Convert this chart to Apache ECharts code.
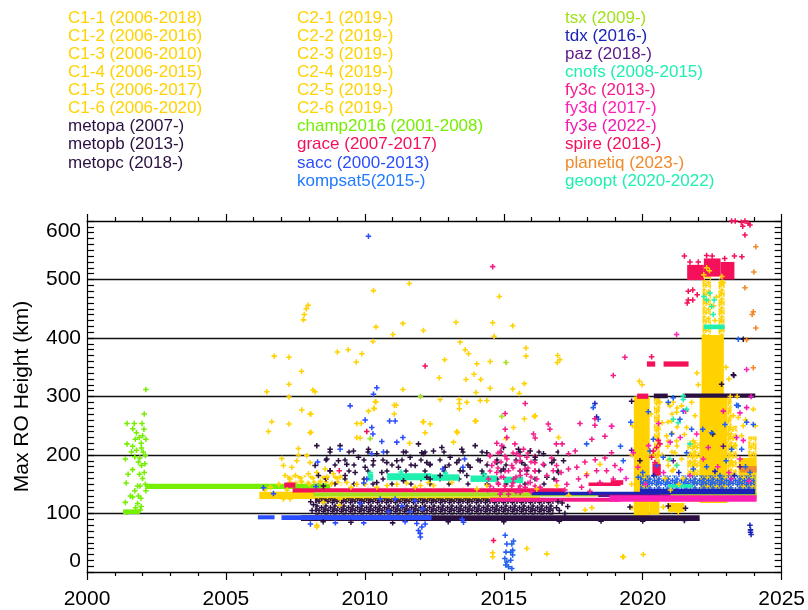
<!DOCTYPE html>
<html><head><meta charset="utf-8">
<script src="https://cdn.jsdelivr.net/npm/echarts@6/dist/echarts.min.js"></script>
<style>html,body{margin:0;padding:0;background:#fff}#chart{width:808px;height:610px}</style>
</head><body><div id="chart"></div>
<script>
// ---------- tick labels ----------
const yearTicks = [2000, 2005, 2010, 2015, 2020, 2025];
const kmTicks = [0, 100, 200, 300, 400, 500, 600];

// ---------- legend names (three columns) ----------
const col1Names = ['C1-1 (2006-2018)','C1-2 (2006-2016)','C1-3 (2006-2010)','C1-4 (2006-2015)','C1-5 (2006-2017)','C1-6 (2006-2020)','metopa (2007-)','metopb (2013-)','metopc (2018-)'];
const col2Names = ['C2-1 (2019-)','C2-2 (2019-)','C2-3 (2019-)','C2-4 (2019-)','C2-5 (2019-)','C2-6 (2019-)','champ2016 (2001-2008)','grace (2007-2017)','sacc (2000-2013)','kompsat5(2015-)'];
const col3Names = ['tsx (2009-)','tdx (2016-)','paz (2018-)','cnofs (2008-2015)','fy3c (2013-)','fy3d (2017-)','fy3e (2022-)','spire (2018-)','planetiq (2023-)','geoopt (2020-2022)'];

// ---------- data ----------
// points: [year, km]; bands / clouds: [yearStart, yearEnd, kmLow, kmHigh]
const c1Dense = [[2006.2,2008.2,125,137],[2008.2,2016.3,122,129]];
const c1Cloud = [[2007.2,2009.2,148,165]];
const c1Pts = [[2006.47,308],[2006.53,240],[2006.65,257],[2006.74,369],[2007.01,194],[2007.27,367],[2007.27,321],[2007.27,299],[2007.27,253],[2007.72,343],[2007.73,277],[2007.79,431],[2007.82,440],[2007.89,450],[2007.96,456],[2008.06,270],[2008.06,239],[2008.13,311],[2008.21,308],[2009.01,376],[2009.4,380],[2009.69,359],[2009.89,373],[2009.87,254],[2009.83,229],[2010.31,481],[2010.4,419],[2010.29,394],[2010.4,291],[2010.34,279],[2010.13,275],[2011.01,406],[2011.13,285],[2011.06,270],[2009.09,114],[2008.27,77],
[2011.6,493],[2011.37,425],[2012.11,413],[2013.28,427],[2013.43,393],[2013.61,380],[2013.73,373],[2012.87,363],[2014.03,356],[2014.51,360],[2014.65,403],[2014.6,426],[2014.84,471],[2015.32,421],[2012.68,332],[2013.64,329],[2013.93,338],[2014.17,329],[2014.0,307],[2011.37,312],[2012.71,295],[2013.4,295],[2013.4,279],[2013.67,290],[2014.39,293],[2014.51,314],[2014.0,258],[2012.09,257],[2012.35,253],[2013.31,240],[2015.32,313],[2015.56,305],[2015.74,322],[2015.8,383],[2015.8,369],[2016.1,266],[2015.74,262],[2016.94,370],[2017.02,363],[2016.93,358],[2015.35,247],[2015.08,228],[2015.83,40],[2016.55,31],[2014.6,26],[2014.6,33],[2019.28,26],
[2008.03,270],[2008.03,238],[2010.37,291],[2010.33,280],[2011.06,285],[2009.71,254],[2009.71,230],[2012.11,257],[2012.17,238],[2011.61,220],[2007.61,211],[2007.61,200],[2007.55,190],[2007.07,182],[2007.37,179],[2007.13,165],[2007.31,159],[2007.91,199],[2008.03,187],[2007.97,168],[2008.27,170],[2008.57,176],[2008.63,162],[2008.87,168],[2009.11,162],[2009.35,153],[2009.71,150],[2010.43,145],[2011.15,150],[2011.81,145],[2012.29,153],[2007.07,125],[2007.31,125],[2008.51,119],[2009.11,125],[2008.27,80],
[2013.19,222],[2013.33,238],[2013.97,258],[2013.4,288],[2014.15,293],[2016.13,267],[2016.97,230],[2017.99,168],[2018.46,184],[2018.17,110],[2017.93,106],[2012.47,148],[2013.13,153],[2014.03,142],[2014.39,148],[2016.19,142],[2016.91,148],[2017.33,131],
[2006.4,140],[2006.6,145],[2006.9,150],[2007.2,140],[2007.5,165],[2007.7,155],[2008.0,150],[2008.4,155],[2008.8,150],[2009.5,145],[2010.0,150],[2010.8,148],[2011.5,152],[2012.0,148]];

const c2Dense = [[2019.68,2020.25,96,300],[2020.25,2020.6,98,122],[2020.9,2021.5,103,118],[2022.05,2023.05,118,300],[2022.12,2022.92,300,405],[2023.45,2024.1,125,195]];
const c2Cloud = [[2020.4,2020.62,122,298],[2021.6,2022.05,120,225],[2022.15,2022.45,405,508],[2022.72,2022.95,405,500],[2023.05,2023.4,130,250],[2023.8,2024.1,195,232],[2023.05,2023.2,250,300]];
const c2Haze = [[2020.62,2021.5,150,290]];
const c2Pts = [[2019.88,326],[2019.31,26],[2020.02,30],[2020.98,284],[2021.22,273],[2021.4,284],[2021.76,290],[2021.88,267],[2021.04,258],[2021.58,247],[2020.86,233],[2021.22,224],[2021.82,224],[2021.16,204],[2021.4,193],[2020.92,182],[2021.7,188],[2023.08,236],[2023.26,267],[2023.44,264],[2023.62,250],[2023.56,233],[2023.98,278],[2020.62,290],[2020.56,244],[2021.28,102],[2021.04,105],[2021.46,108],[2020.74,111],[2022.96,222],[2023.2,188],[2023.32,216],[2021.1,290],[2019.98,320],
[2022.3,520],[2022.4,515],[2022.2,508],[2022.85,505],[2022.9,495],[2022.6,430],[2022.55,455],[2022.65,470],[2022.62,360],[2022.0,320],[2021.95,340],[2023.1,330],[2023.15,300],[2023.0,350],[2020.8,160],[2020.7,200],[2021.3,150],[2021.0,140],[2023.4,300],[2023.7,260],[2024.05,250],[2019.6,150],[2019.62,200],[2019.63,250],[2019.61,110],[2020.3,270],[2020.35,200],[2020.7,255],[2020.9,215],[2021.1,175],[2021.45,160],[2021.5,235],[2021.55,275]];

const metopDense = [[2007.7,2022.05,87,97],[2020.4,2020.9,297,305],[2021.5,2024.05,298,305]];
const metopCloud = [[2008.2,2016.8,98,126]];
const metopHaze = [[2008.3,2017.0,145,210]];
const metopPts = [[2008.27,216],[2008.75,210],[2009.11,216],[2009.59,207],[2010.13,210],[2010.43,202],[2011.39,205],[2011.93,219],[2012.11,202],[2008.21,182],[2008.63,193],[2009.05,190],[2009.35,184],[2008.75,173],[2009.29,165],[2009.77,196],[2010.01,179],[2010.31,190],[2010.79,187],[2011.15,190],[2011.63,196],[2012.23,187],[2008.33,165],[2009.65,170],[2010.61,170],[2011.21,179],[2011.81,182],[2008.51,147],[2010.43,153],[2011.39,156],[2012.35,159],
[2012.05,204],[2012.47,207],[2012.77,213],[2013.07,196],[2013.49,210],[2013.97,216],[2014.39,204],[2014.99,213],[2015.53,210],[2015.95,207],[2016.43,202],[2012.35,184],[2012.89,179],[2013.31,187],[2013.79,179],[2014.15,190],[2014.75,187],[2015.65,187],[2016.13,196],[2016.73,187],[2017.15,190],[2012.23,162],[2012.71,165],[2013.67,165],[2014.27,168],[2014.99,176],[2015.83,173],[2016.55,162],[2016.97,170],[2013.43,173],
[2019.6,292],[2022.84,321],[2022.52,236],[2019.54,111],[2023.26,337],[2023.62,398],[2023.28,336],[2019.9,190],[2020.92,113],[2021.54,109],
[2008.5,86],[2009.5,85],[2011.0,84],[2013.0,86],[2015.0,86],[2017.0,87],[2018.5,87],[2020.0,87],[2021.5,88],
[2016.9,110],[2017.0,105],[2017.1,118],[2017.2,100],[2017.3,112],[2016.95,120],[2008.1,105],[2008.15,115],[2008.05,120]];

const champDense = [[2002.1,2008.75,142,151],[2001.3,2001.9,99,107]];
const champPts = [[2001.44,254],[2001.44,219],[2001.38,193],[2001.41,152],[2001.38,119],[2001.44,102],[2001.7,254],[2001.65,245],[2001.74,227],[2001.64,215],[2001.78,208],[2001.72,197],[2001.85,188],[2001.64,175],[2001.89,167],[2001.72,139],[2001.64,128],[2001.82,117],[2001.94,126],[2001.98,254],[2002.06,270],[2002.12,312],[2002.0,233],[2002.12,227],[2001.96,212],[2002.1,199],[2001.96,182],[2002.06,170],[2001.91,147],[2002.12,139],[2001.92,106],[2001.56,130],[2001.48,167],[2001.6,205],[2001.82,147],[2001.78,238],[2002.05,244],
[2001.95,220],[2002.02,205],[2001.9,195],[2002.0,160],[2001.85,130],[2001.95,112],[2002.08,185],[2001.88,230],[2002.1,150],[2001.75,110]];

const graceDense = [[2007.4,2017.2,136,143],[2007.1,2007.5,144,153]];
const gracePts = [[2010.07,240],[2009.08,173],[2012.17,352],[2014.63,54]];

const saccDense = [[2006.15,2006.75,90,97],[2007.0,2012.4,89,97]];
const saccPts = [[2009.47,284],[2010.01,260],[2010.25,247],[2010.29,236],[2010.89,258],[2011.09,258],[2011.37,230],[2011.15,222],[2010.61,223],[2010.67,205],[2010.25,202],[2008.3,188],[2009.11,210],[2010.07,159],[2009.96,152],[2008.24,146],[2006.71,134],[2006.35,144],[2009.83,117],[2010.55,125],[2011.09,125],[2011.33,113],[2011.81,122],[2011.63,103],[2010.85,103],[2012.07,108],[2008.04,82],[2008.94,84],[2009.96,84],[2011.45,86],[2011.87,83],[2011.99,66],[2012.05,77],[2011.93,71],[2012.17,82],[2012.0,60],[2010.13,574],[2010.31,304],[2010.43,315],[2012.8,176],[2013.53,179],[2013.59,193],[2013.5,90],[2013.55,85]];

const kompsatCloud = [[2019.9,2024.05,140,165]];
const kompsatPts = [[2015.05,63],[2015.11,48],[2015.29,48],[2015.08,34],[2015.25,34],[2015.32,29],[2015.04,23],[2015.25,20],[2015.17,9],[2015.07,12],[2015.32,37],[2015.11,17],[2015.29,6],[2015.35,53],
[2019.57,256],[2020.2,274],[2020.92,290],[2021.1,298],[2021.34,261],[2021.46,275],[2021.76,244],[2022.16,244],[2022.48,238],[2022.96,252],[2023.44,284],[2023.74,256],[2023.98,252],[2020.38,227],[2021.04,236],[2023.2,210],[2023.56,210],[2020.26,207],[2020.74,196],[2021.58,204],[2019.84,162],[2020.5,182],[2021.82,176],[2022.78,165],[2023.86,170],[2019.2,215],[2023.44,398],[2023.38,285],[2018.4,261],[2018.22,281],[2017.98,219],[2019.3,190],[2020.0,170],[2022.3,180],[2023.0,190],[2023.7,180]];

const tsxDense = [[2008.15,2024.1,129,136]];
const tsxPts = [[2010.19,228],[2012.0,300],[2014.93,266],[2015.08,358]];

const tdxDense = [[2016.0,2020.6,131,137],[2019.9,2024.05,133,142]];
const tdxPts = [[2023.86,80],[2023.88,68],[2023.9,64],[2023.88,72],[2018.28,288],[2018.34,265],[2020.4,165],[2021.3,170],[2022.6,172],[2023.3,165]];

const pazDense = [[2018.4,2021.0,128,133]];
const pazPts = [[2019.6,208],[2021.1,190],[2022.9,215],[2023.5,180]];

const cnofsDense = [[2010.1,2010.3,156,168],[2010.8,2012.4,157,169],[2012.4,2013.4,156,167],[2013.8,2014.75,154,165],[2015.0,2015.7,152,163]];
const cnofsPts = [[2010.2,170],[2011.3,171],[2012.9,169],[2014.3,167]];

const fy3cDense = [[2014.5,2019.2,120,127]];
const fy3cCloud = [[2014.4,2016.2,132,212]];
const fy3cPts = [[2015.77,288],[2015.05,271],[2016.6,253],[2016.66,244],[2017.74,254],[2018.28,262],[2018.28,251],[2018.88,249],[2016.07,236],[2016.13,229],[2015.11,230],[2015.05,244],[2014.75,220],[2015.4,219],[2016.89,219],[2017.1,219],[2017.33,202],[2017.57,207],[2018.17,227],[2018.64,232],[2018.88,204],[2018.29,192],[2018.64,195],[2017.92,188],[2017.63,179],[2017.33,176],[2016.9,182],[2017.06,170],[2016.78,173],[2017.98,165],[2018.34,173],[2018.7,173],[2019.0,182],[2018.46,153],[2018.94,159],[2017.69,159],[2017.27,150],[2016.9,156],[2016.72,195],[2016.42,184],[2016.12,187],[2015.82,167],[2016.12,173],
[2014.51,199],[2014.69,188],[2014.87,205],[2014.93,216],[2015.11,193],[2015.29,182],[2015.47,202],[2015.59,190],[2015.71,210],[2015.83,196],[2014.75,170],[2014.99,162],[2015.17,173],[2015.35,159],[2015.59,165],[2015.77,176],[2014.81,150],[2015.05,142],[2015.29,147],[2015.53,142],[2015.77,145],[2015.95,153],[2014.63,142],[2014.87,133],[2015.17,133],[2015.59,136],[2014.45,159],[2014.57,182],[2016.19,159],[2016.31,145],[2016.55,165],[2014.6,522],[2018.94,336],[2019.36,367],[2017.2,140],[2017.8,145],[2018.1,138]];

const fy3dDense = [[2018.8,2024.1,120,131]];
const fy3dPts = [[2018.88,249],[2019.66,204],[2019.83,179],[2021.94,236],[2021.54,275],[2021.35,230],[2020.99,222],[2020.57,254],[2020.21,216],[2020.75,170],[2022.18,193],[2023.62,225],[2023.83,155],[2023.5,193],[2021.22,406],[2023.74,346],[2023.5,272],[2019.4,160],[2019.2,175],[2020.1,150],[2021.7,165],[2022.7,180],[2023.1,170]];

const fy3ePts = [[2023.74,281],[2023.38,230],[2022.9,275],[2022.36,213],[2023.9,300],[2023.2,160]];

const spireDense = [[2018.05,2019.2,147,153],[2018.85,2019.3,149,157],[2019.8,2020.2,296,305],[2020.15,2020.45,351,360],[2020.75,2021.65,351,360],[2021.6,2022.2,499,525],[2022.2,2022.8,505,536],[2022.8,2023.3,500,530],[2020.35,2020.65,165,185]];
const spirePts = [[2023.3,540],[2023.57,539],[2023.68,576],[2023.2,600],[2023.33,600],[2023.55,598],[2023.68,600],[2023.8,596],[2023.86,593],[2023.6,591],[2021.64,480],[2021.8,482],[2021.96,474],[2021.64,465],[2021.6,460],[2021.8,465],[2020.38,207],[2020.5,213],[2020.32,196],[2020.62,219],[2020.56,225],[2020.44,187],[2020.32,368],[2021.5,540],[2022.0,530],[2023.1,525],[2022.5,540],[2021.7,530],[2022.3,541],[2022.95,536]];

const planetiqDense = [[2023.5,2024.1,170,181]];
const planetiqPts = [[2024.07,556],[2024.0,513],[2023.68,486],[2023.98,445],[2023.94,440],[2024.07,417],[2023.74,397],[2023.98,349]];

const geooptDense = [[2022.2,2022.95,415,423],[2020.9,2021.8,144,150]];
const geooptPts = [[2022.3,465],[2022.42,477],[2022.57,465],[2022.48,454],[2022.54,440],[2022.2,471],[2021.46,295],[2021.58,278],[2021.7,219],[2021.1,261],[2021.28,255],[2020.98,193],[2021.22,182],[2021.46,301]];

// ---------- styling ----------
const YEL = '#ffd200';
const colors = {
  c1: YEL, c2: YEL, metop: '#2a1040', champ: '#76ee00', grace: '#f5105a', sacc: '#2a4dff',
  kompsat: '#2060f0', tsx: '#a2e01a', tdx: '#1a22b8', paz: '#5a1a88', cnofs: '#1ef0b0',
  fy3c: '#f21d8a', fy3d: '#ff1fb4', fy3e: '#f01aae', spire: '#f5105a', planetiq: '#f08a2a', geoopt: '#1ef0b0'
};
const legendColor = {};
col1Names.forEach((n, i) => legendColor[n] = i < 6 ? colors.c1 : colors.metop);
col2Names.forEach((n, i) => legendColor[n] = i < 6 ? colors.c2 : [colors.champ, colors.grace, colors.sacc, '#1f7bff'][i - 6]);
const col3Keys = ['tsx','tdx','paz','cnofs','fy3c','fy3d','fy3e','spire','planetiq','geoopt'];
col3Names.forEach((n, i) => legendColor[n] = colors[col3Keys[i]]);

// texture tiles of '+' marks used to shade speckled clouds (pure style)
const TILE_SPOTS = {
  dense: { size: 9, spots: [[2,2],[6.5,3.5],[4,6.5],[8.5,7.5],[1,5]] },
  medium: { size: 12, spots: [[2,2],[8,3],[5,7],[11,9],[1,10]] },
  sparse: { size: 15, spots: [[3,3],[10,6],[6,12]] },
  thin: { size: 19, spots: [[3,4],[12,9],[7,15]] }
};
function crossPattern(color, kind) {
  const t = TILE_SPOTS[kind];
  const c = document.createElement('canvas'); c.width = c.height = t.size;
  const g = c.getContext('2d'); g.strokeStyle = color; g.lineWidth = 1.5;
  t.spots.forEach(([x, y]) => {
    for (const dx of [-t.size, 0, t.size]) for (const dy of [-t.size, 0, t.size]) {
      g.beginPath();
      g.moveTo(x + dx - 2.5, y + dy); g.lineTo(x + dx + 2.5, y + dy);
      g.moveTo(x + dx, y + dy - 2.5); g.lineTo(x + dx, y + dy + 2.5);
      g.stroke();
    }
  });
  return { image: c, repeat: 'repeat' };
}

// missions: [legendName, colorKey, points, solidBands, [[clouds, texture], ...]]
const missions = [
  [col1Names[0], 'c1', c1Pts, c1Dense, [[c1Cloud, 'medium']]],
  [col2Names[0], 'c2', c2Pts, c2Dense, [[c2Cloud, 'dense'], [c2Haze, 'thin']]],
  [col1Names[6], 'metop', metopPts, metopDense, [[metopCloud, 'dense'], [metopHaze, 'thin']]],
  [col2Names[6], 'champ', champPts, champDense, []],
  [col2Names[7], 'grace', gracePts, graceDense, []],
  [col2Names[8], 'sacc', saccPts, saccDense, []],
  [col2Names[9], 'kompsat', kompsatPts, [], [[kompsatCloud, 'dense']]],
  [col3Names[0], 'tsx', tsxPts, tsxDense, []],
  [col3Names[1], 'tdx', tdxPts, tdxDense, []],
  [col3Names[2], 'paz', pazPts, pazDense, []],
  [col3Names[3], 'cnofs', cnofsPts, cnofsDense, []],
  [col3Names[4], 'fy3c', fy3cPts, fy3cDense, [[fy3cCloud, 'sparse']]],
  [col3Names[5], 'fy3d', fy3dPts, fy3dDense, []],
  [col3Names[6], 'fy3e', fy3ePts, [], []],
  [col3Names[7], 'spire', spirePts, spireDense, []],
  [col3Names[8], 'planetiq', planetiqPts, planetiqDense, []],
  [col3Names[9], 'geoopt', geooptPts, geooptDense, []]
];

const PLUS = 'path://M1.8,0H3.2V1.8H5V3.2H3.2V5H1.8V3.2H0V1.8H1.8Z';
function rectRenderer(fill) {
  return function (params, api) {
    const a = api.coord([api.value(0), api.value(3)]);
    const b = api.coord([api.value(1), api.value(2)]);
    return { type: 'rect', shape: { x: a[0], y: a[1], width: b[0] - a[0], height: b[1] - a[1] }, style: { fill } };
  };
}

const series = [];
missions.forEach(([name, key, pts, dense, clouds]) => {
  const color = colors[key];
  clouds.forEach(([cloud, tex]) => series.push({ type: 'custom', name, renderItem: rectRenderer(crossPattern(color, tex)),
    encode: { x: [0, 1], y: [2, 3] }, data: cloud, silent: true, clip: true, itemStyle: { color } }));
  if (dense.length) series.push({ type: 'custom', name, renderItem: rectRenderer(color),
    encode: { x: [0, 1], y: [2, 3] }, data: dense, silent: true, clip: true, itemStyle: { color } });
  series.push({ type: 'scatter', name, data: pts, symbol: PLUS, symbolSize: 5.5,
    itemStyle: { color, opacity: 1 }, silent: true, clip: true });
});
// empty series so every legend entry exists
[...col1Names, ...col2Names, ...col3Names].forEach(n => {
  if (!series.some(s => s.name === n)) series.push({ type: 'scatter', name: n, data: [], itemStyle: { color: legendColor[n] } });
});

const FONT = 'Liberation Sans, Arial, Helvetica, sans-serif';
function legendCol(names, left) {
  return { orient: 'vertical', left, top: 9, padding: 0, itemGap: 0, itemWidth: 0, itemHeight: 0,
    icon: 'rect', selectedMode: false, itemStyle: { opacity: 0 },
    textStyle: { fontSize: 17, fontFamily: FONT, lineHeight: 18.1 },
    data: names.map(n => ({ name: n, textStyle: { color: legendColor[n] } })) };
}

const axisLineStyle = { color: '#000', width: 1.2 };
const xBase = {
  type: 'value', min: yearTicks[0], max: yearTicks[yearTicks.length - 1], interval: yearTicks[1] - yearTicks[0],
  axisLine: { show: true, onZero: false, lineStyle: axisLineStyle },
  axisTick: { show: true, inside: false, length: 8, lineStyle: axisLineStyle },
  minorTick: { show: true, splitNumber: 5, length: 4, lineStyle: axisLineStyle },
  splitLine: { show: false }
};
const yBase = {
  type: 'value', min: kmTicks[0], max: kmTicks[kmTicks.length - 1], interval: kmTicks[1] - kmTicks[0],
  axisLine: { show: true, onZero: false, lineStyle: axisLineStyle },
  axisTick: { show: true, inside: true, length: 7, lineStyle: axisLineStyle },
  minorTick: { show: true, splitNumber: 10, length: 7, lineStyle: axisLineStyle },
  splitLine: { show: true, lineStyle: { color: '#111', width: 1.3 } }
};

const option = {
  animation: false,
  backgroundColor: '#fff',
  grid: { left: 87, right: 26, top: 221, bottom: 37, containLabel: false },
  legend: [legendCol(col1Names, 63), legendCol(col2Names, 292), legendCol(col3Names, 560)],
  xAxis: [
    Object.assign({}, xBase, { position: 'bottom',
      axisLabel: { show: true, fontSize: 21, color: '#000', fontFamily: FONT, margin: 17, formatter: v => String(v) } }),
    Object.assign({}, xBase, { position: 'top', axisTick: Object.assign({}, xBase.axisTick, { length: 7 }), axisLabel: { show: false } })
  ],
  yAxis: [
    Object.assign({}, yBase, { position: 'left', name: 'Max RO Height (km)', nameLocation: 'middle', nameGap: 54,
      nameTextStyle: { fontSize: 21, color: '#000', fontFamily: FONT },
      axisLabel: { show: true, fontSize: 21, color: '#000', fontFamily: FONT, margin: 6, formatter: v => String(v),
        verticalAlignMinLabel: 'bottom', verticalAlignMaxLabel: 'top' } }),
    Object.assign({}, yBase, { position: 'right', splitLine: { show: false }, axisLabel: { show: false } })
  ],
  series
};

const chart = echarts.init(document.getElementById('chart'), null, { renderer: 'canvas' });
chart.setOption(option);
</script>
</body></html>
